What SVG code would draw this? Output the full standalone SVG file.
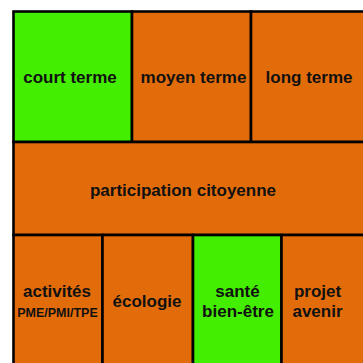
<svg xmlns="http://www.w3.org/2000/svg" width="363" height="363" viewBox="0 0 363 363">
<style>
.o{fill:#E36C0A;stroke:#000;stroke-width:2.6}
.g{fill:#44EE00;stroke:#000;stroke-width:2.6}
text{font-family:"Liberation Sans",Arial,sans-serif;font-weight:bold;font-size:17px;fill:#111;text-anchor:middle}
.s{font-size:12.5px}
</style>
<rect width="363" height="363" fill="#fff"/>
<g id="court-terme"><rect class="g" x="13.5" y="11.5" width="118.5" height="130.5"/><text x="70" y="83">court terme</text></g>
<g id="moyen-terme"><rect class="o" x="132" y="11.5" width="119" height="130.5"/><text x="193.5" y="83">moyen terme</text></g>
<g id="long-terme"><rect class="o" x="251" y="11.5" width="125" height="130.5"/><text x="309" y="83">long terme</text></g>
<g id="participation"><rect class="o" x="13.5" y="142" width="362.5" height="93"/><text x="183" y="195.5">participation citoyenne</text></g>
<g id="activites"><rect class="o" x="13.5" y="235" width="89" height="140"/><text x="57" y="297">activités</text><text class="s" x="57.5" y="317">PME/PMI/TPE</text></g>
<g id="ecologie"><rect class="o" x="102.5" y="235" width="90.5" height="140"/><text x="147" y="306.5">écologie</text></g>
<g id="sante"><rect class="g" x="193" y="235" width="88.5" height="140"/><text x="237.5" y="297">santé</text><text x="238" y="317">bien-être</text></g>
<g id="projet"><rect class="o" x="281.5" y="235" width="94.5" height="140"/><text x="317.5" y="297">projet</text><text x="317.5" y="317">avenir</text></g>
<g id="connectors"/>
</svg>
